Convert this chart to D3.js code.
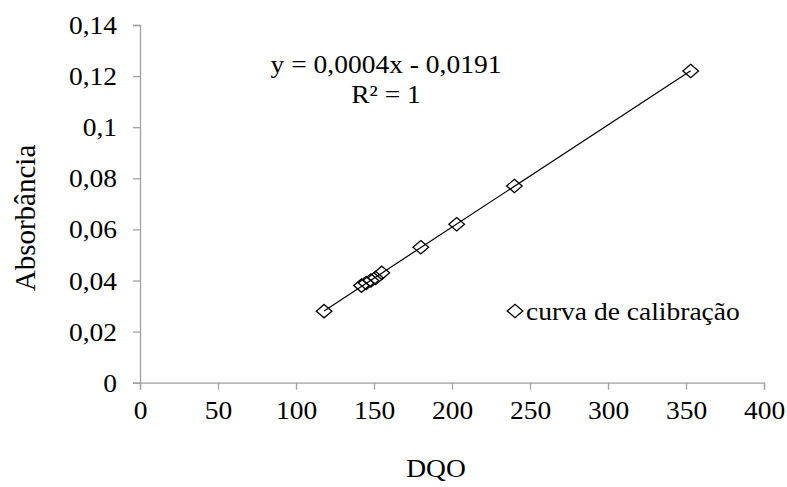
<!DOCTYPE html>
<html>
<head>
<meta charset="utf-8">
<script src="https://cdn.jsdelivr.net/npm/d3@7"></script>
<style>
  html, body { margin: 0; padding: 0; background: #fff; }
  svg { display: block; }
  svg text { font-family: 'Liberation Serif', 'Times New Roman', Tinos, serif !important; fill: #000; }
</style>
</head>
<body>
<svg id="chart" width="787" height="487"></svg>
<script>
// Calibration curve: COD (DQO) vs absorbance
const dqo = [118, 142, 145, 148, 151, 155, 180, 203, 240, 353];
const absorbancia = [0.028, 0.038, 0.039, 0.040, 0.041, 0.043, 0.053, 0.062, 0.077, 0.122];
const xTicks = [0, 50, 100, 150, 200, 250, 300, 350, 400];
const yTicks = [0, 0.02, 0.04, 0.06, 0.08, 0.1, 0.12, 0.14];
// Linear fit reported on the chart
const slope = 0.0004;
const intercept = -0.0191;
const equationLines = ["y = 0,0004x - 0,0191", "R² = 1"];
const seriesName = "curva de calibração";
const xTitle = "DQO";
const yTitle = "Absorbância";

const svg = d3.select("#chart");
const plotLeft = 140, plotRight = 764, plotTop = 25, plotBottom = 382.7;

const x = d3.scaleLinear().domain([0, 400]).range([plotLeft, plotRight]);
const y = d3.scaleLinear().domain([0, 0.14]).range([plotBottom, plotTop]);

const fmt = v => String(+v.toFixed(2)).replace(".", ",");
const axisColor = "#a0a0a0";
const fontSize = 25;
const widen = 1.1; // horizontal text widening

// Widen horizontal text a little while keeping its height
function stretch(sel) {
  sel.each(function () {
    const len = this.getComputedTextLength();
    d3.select(this).attr("textLength", len * widen).attr("lengthAdjust", "spacingAndGlyphs");
  });
}

// X axis
const gx = svg.append("g").attr("transform", `translate(0,${plotBottom})`)
  .call(d3.axisBottom(x).tickValues(xTicks).tickSize(7).tickPadding(12).tickFormat(d => d));
// Y axis
const gy = svg.append("g").attr("transform", `translate(${plotLeft},0)`)
  .call(d3.axisLeft(y).tickValues(yTicks).tickSize(7).tickPadding(16).tickFormat(fmt));

[gx, gy].forEach(g => {
  g.attr("font-family", null).attr("font-size", null);
  g.select(".domain").attr("stroke", axisColor).attr("stroke-width", 1.3);
  g.selectAll(".tick line").attr("stroke", axisColor).attr("stroke-width", 1.3);
  g.selectAll(".tick text").attr("font-size", fontSize).attr("fill", "#000");
});
gy.selectAll(".tick text").attr("dy", "0.34em");
gx.selectAll(".tick text").attr("dy", "0.71em");
stretch(gx.selectAll(".tick text"));
stretch(gy.selectAll(".tick text"));

// Diamond marker (slightly wider than tall)
const diamond = (w, h) => `M0,${-h}L${w},0L0,${h}L${-w},0Z`;

// Markers
svg.append("g").selectAll("path")
  .data(dqo.map((d, i) => [d, absorbancia[i]]))
  .join("path")
  .attr("d", diamond(7.8, 6.7))
  .attr("transform", d => `translate(${x(d[0])},${y(d[1])})`)
  .attr("fill", "none")
  .attr("stroke", "#000")
  .attr("stroke-width", 1.3);

// Trend line over the data range
const xMin = d3.min(dqo), xMax = d3.max(dqo);
svg.append("line")
  .attr("x1", x(xMin)).attr("y1", y(slope * xMin + intercept))
  .attr("x2", x(xMax)).attr("y2", y(slope * xMax + intercept))
  .attr("stroke", "#000").attr("stroke-width", 1.2);

// Equation label
svg.append("g").selectAll("text").data(equationLines).join("text")
  .attr("x", 386).attr("y", (d, i) => 73 + i * 30)
  .attr("text-anchor", "middle")
  .attr("font-size", fontSize)
  .text(d => d)
  .call(stretch);

// Legend
svg.append("path")
  .attr("d", diamond(7.8, 6.7))
  .attr("transform", "translate(515,311)")
  .attr("fill", "none").attr("stroke", "#000").attr("stroke-width", 1.3);
svg.append("text")
  .attr("x", 526).attr("y", 320)
  .attr("font-size", fontSize)
  .text(seriesName)
  .call(stretch);

// Axis titles
svg.append("text")
  .attr("x", 436).attr("y", 477)
  .attr("text-anchor", "middle").attr("font-size", fontSize)
  .text(xTitle)
  .call(stretch);
svg.append("text")
  .attr("transform", "translate(35,218) rotate(-90)")
  .attr("text-anchor", "middle").attr("font-size", 29)
  .text(yTitle);
</script>
</body>
</html>
